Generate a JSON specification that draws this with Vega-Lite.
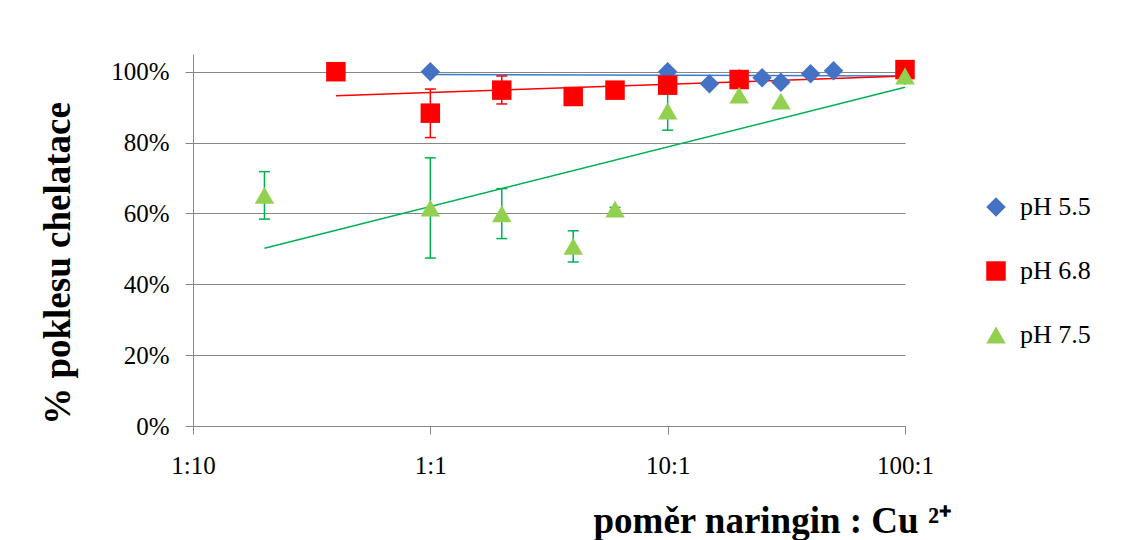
{
  "$schema": "https://vega.github.io/schema/vega-lite/v6.json",
  "width": 712,
  "height": 372,
  "autosize": {"type": "none"},
  "padding": {"left": 193, "top": 54, "right": 226, "bottom": 114},
  "background": "white",
  "config": {
    "view": {"stroke": null},
    "font": "Liberation Serif"
  },
  "datasets": {
    "points": [
      {"series": "pH 5.5", "ratio": 1, "value": 1.0},
      {"series": "pH 5.5", "ratio": 10, "value": 1.0},
      {"series": "pH 5.5", "ratio": 15, "value": 0.966},
      {"series": "pH 5.5", "ratio": 20, "value": 0.98},
      {"series": "pH 5.5", "ratio": 25, "value": 0.983},
      {"series": "pH 5.5", "ratio": 30, "value": 0.97},
      {"series": "pH 5.5", "ratio": 40, "value": 0.994},
      {"series": "pH 5.5", "ratio": 50, "value": 1.003},
      {"series": "pH 5.5", "ratio": 100, "value": 0.99},
      {"series": "pH 6.8", "ratio": 0.4, "value": 1.0},
      {"series": "pH 6.8", "ratio": 1, "value": 0.883},
      {"series": "pH 6.8", "ratio": 2, "value": 0.948},
      {"series": "pH 6.8", "ratio": 4, "value": 0.93},
      {"series": "pH 6.8", "ratio": 6, "value": 0.948},
      {"series": "pH 6.8", "ratio": 10, "value": 0.962},
      {"series": "pH 6.8", "ratio": 20, "value": 0.978},
      {"series": "pH 6.8", "ratio": 100, "value": 1.006},
      {"series": "pH 7.5", "ratio": 0.2, "value": 0.651},
      {"series": "pH 7.5", "ratio": 1, "value": 0.615},
      {"series": "pH 7.5", "ratio": 2, "value": 0.599},
      {"series": "pH 7.5", "ratio": 4, "value": 0.507},
      {"series": "pH 7.5", "ratio": 6, "value": 0.612},
      {"series": "pH 7.5", "ratio": 10, "value": 0.889},
      {"series": "pH 7.5", "ratio": 20, "value": 0.934},
      {"series": "pH 7.5", "ratio": 30, "value": 0.917},
      {"series": "pH 7.5", "ratio": 100, "value": 0.988}
    ],
    "errors": [
      {"series": "pH 6.8", "ratio": 1, "lo": 0.814, "hi": 0.951},
      {"series": "pH 6.8", "ratio": 2, "lo": 0.909, "hi": 0.988},
      {"series": "pH 7.5", "ratio": 0.2, "lo": 0.584, "hi": 0.718},
      {"series": "pH 7.5", "ratio": 1, "lo": 0.474, "hi": 0.757},
      {"series": "pH 7.5", "ratio": 2, "lo": 0.529, "hi": 0.67},
      {"series": "pH 7.5", "ratio": 4, "lo": 0.463, "hi": 0.551},
      {"series": "pH 7.5", "ratio": 6, "lo": 0.607, "hi": 0.617},
      {"series": "pH 7.5", "ratio": 10, "lo": 0.835, "hi": 0.943}
    ],
    "caps": [
      {"series": "pH 6.8", "ratio": 1, "v": 0.814},
      {"series": "pH 6.8", "ratio": 1, "v": 0.951},
      {"series": "pH 6.8", "ratio": 2, "v": 0.909},
      {"series": "pH 6.8", "ratio": 2, "v": 0.988},
      {"series": "pH 7.5", "ratio": 0.2, "v": 0.584},
      {"series": "pH 7.5", "ratio": 0.2, "v": 0.718},
      {"series": "pH 7.5", "ratio": 1, "v": 0.474},
      {"series": "pH 7.5", "ratio": 1, "v": 0.757},
      {"series": "pH 7.5", "ratio": 2, "v": 0.529},
      {"series": "pH 7.5", "ratio": 2, "v": 0.67},
      {"series": "pH 7.5", "ratio": 4, "v": 0.463},
      {"series": "pH 7.5", "ratio": 4, "v": 0.551},
      {"series": "pH 7.5", "ratio": 6, "v": 0.607},
      {"series": "pH 7.5", "ratio": 6, "v": 0.617},
      {"series": "pH 7.5", "ratio": 10, "v": 0.835},
      {"series": "pH 7.5", "ratio": 10, "v": 0.943}
    ],
    "trends": [
      {"series": "pH 5.5", "ratio": 1, "value": 0.992},
      {"series": "pH 5.5", "ratio": 100, "value": 0.988},
      {"series": "pH 6.8", "ratio": 0.4, "value": 0.932},
      {"series": "pH 6.8", "ratio": 100, "value": 0.988},
      {"series": "pH 7.5", "ratio": 0.2, "value": 0.502},
      {"series": "pH 7.5", "ratio": 100, "value": 0.956}
    ]
  },
  "layer": [
    {
      "data": {"name": "trends"},
      "mark": {"type": "line", "strokeWidth": 1.5},
      "encoding": {
        "x": {
          "field": "ratio", "type": "quantitative",
          "scale": {"type": "log", "domain": [0.1, 100], "nice": false},
          "axis": {
            "values": [0.1, 1, 10, 100],
            "labelExpr": "datum.value < 0.5 ? '1:10' : datum.value < 5 ? '1:1' : datum.value < 50 ? '10:1' : '100:1'",
            "grid": false,
            "labelFlush": false,
            "domainColor": "#868686",
            "tickColor": "#868686",
            "tickSize": 8,
            "labelPadding": 19,
            "labelFontSize": 25,
            "labelColor": "black",
            "labelFont": "Liberation Serif",
            "title": "poměr naringin : Cu ²⁺",
            "titleFont": "Liberation Serif",
            "titleFontSize": 37,
            "titleFontWeight": "bold",
            "titleColor": "black",
            "titleAnchor": "start",
            "titleAlign": "left",
            "titleBaseline": "alphabetic",
            "titleX": 400,
            "titleY": 106
          }
        },
        "y": {
          "field": "value", "type": "quantitative",
          "scale": {"domain": [0, 1.05], "nice": false},
          "axis": {
            "values": [0, 0.2, 0.4, 0.6, 0.8, 1.0],
            "format": ".0%",
            "grid": true,
            "gridColor": "#868686",
            "gridWidth": 1,
            "domainColor": "#868686",
            "tickColor": "#868686",
            "tickSize": 8,
            "labelPadding": 16,
            "labelFontSize": 25,
            "labelColor": "black",
            "labelFont": "Liberation Serif",
            "title": "% poklesu chelatace",
            "titleFont": "Liberation Serif",
            "titleFontSize": 37,
            "titleFontWeight": "bold",
            "titleColor": "black",
            "titleAngle": -90,
            "titleAlign": "center",
            "titleBaseline": "middle",
            "titleX": -135,
            "titleY": 209
          }
        },
        "detail": {"field": "series"},
        "stroke": {
          "field": "series", "type": "nominal",
          "scale": {"range": ["#3C7CD0", "#FF0000", "#00B050"]},
          "legend": null
        }
      }
    },
    {
      "data": {"name": "errors"},
      "mark": {"type": "rule", "strokeWidth": 1.5},
      "encoding": {
        "x": {"field": "ratio", "type": "quantitative"},
        "y": {"field": "lo", "type": "quantitative"},
        "y2": {"field": "hi"},
        "stroke": {"field": "series", "type": "nominal", "legend": null}
      }
    },
    {
      "data": {"name": "caps"},
      "mark": {"type": "point", "filled": false, "shape": "M-1,0L1,0", "size": 121, "strokeWidth": 1.5, "opacity": 1},
      "encoding": {
        "x": {"field": "ratio", "type": "quantitative"},
        "y": {"field": "v", "type": "quantitative"},
        "stroke": {"field": "series", "type": "nominal", "legend": null}
      }
    },
    {
      "data": {"name": "points"},
      "mark": {"type": "point", "filled": true, "opacity": 1, "size": 380},
      "encoding": {
        "x": {"field": "ratio", "type": "quantitative"},
        "y": {"field": "value", "type": "quantitative"},
        "color": {
          "field": "series", "type": "nominal",
          "scale": {"domain": ["pH 5.5", "pH 6.8", "pH 7.5"], "range": ["#4472C4", "#FF0000", "#92D050"]},
          "legend": {
            "title": null,
            "orient": "none",
            "legendX": 790,
            "legendY": 140,
            "direction": "vertical",
            "symbolSize": 380,
            "symbolOpacity": 1,
            "symbolStrokeWidth": 0,
            "labelFontSize": 26,
            "labelFont": "Liberation Serif",
            "labelColor": "black",
            "labelOffset": 11,
            "rowPadding": 38,
            "padding": 0
          }
        },
        "shape": {
          "field": "series", "type": "nominal",
          "scale": {"domain": ["pH 5.5", "pH 6.8", "pH 7.5"], "range": ["diamond", "square", "triangle-up"]}
        }
      }
    }
  ]
}
